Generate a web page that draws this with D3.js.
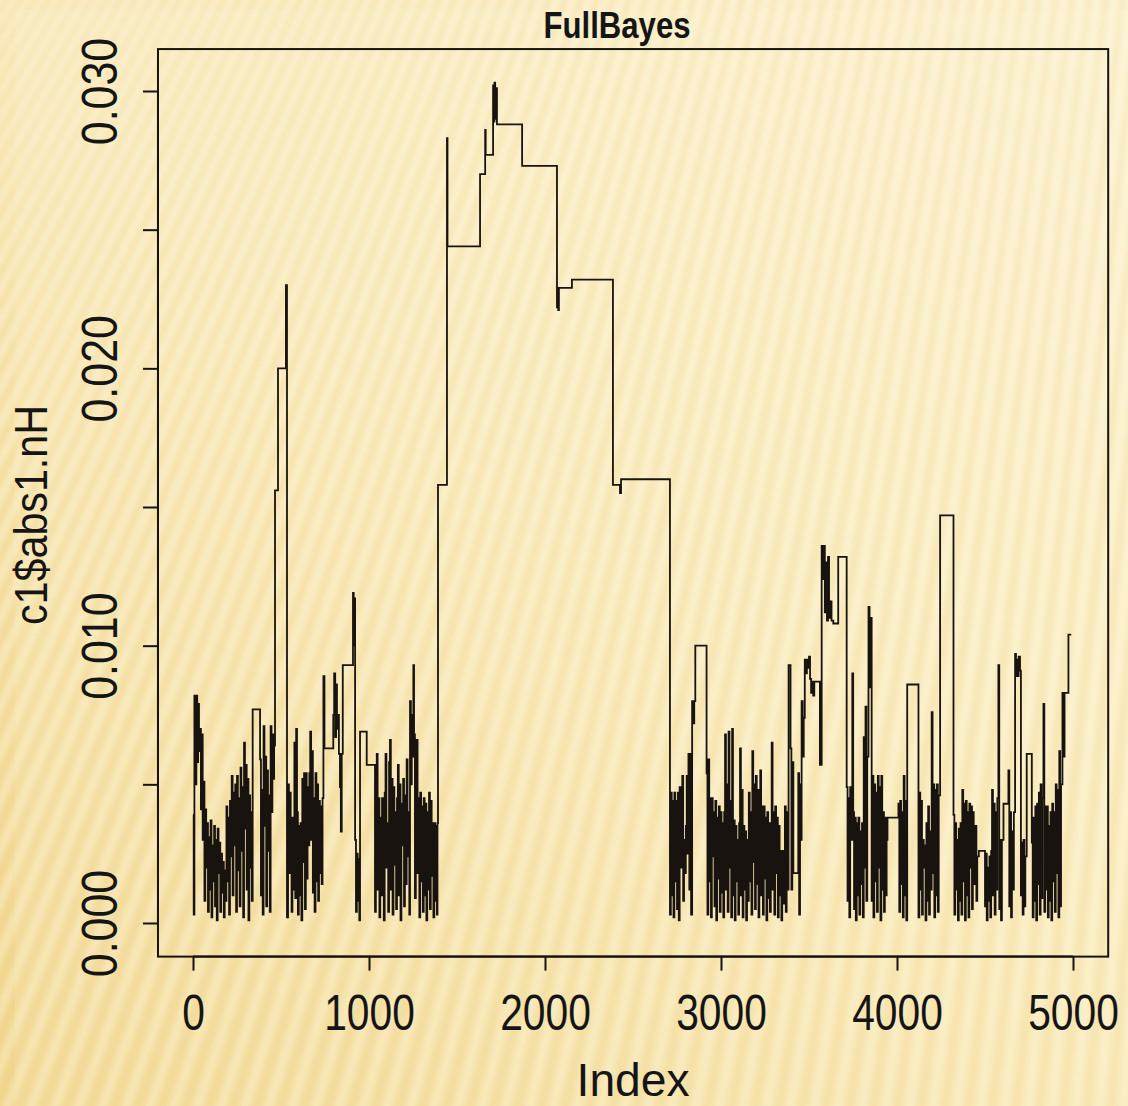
<!DOCTYPE html>
<html><head><meta charset="utf-8">
<script src="https://cdn.jsdelivr.net/npm/d3@7"></script>
<style>html,body{margin:0;padding:0;background:#F8E6AE;} svg{display:block}</style>
</head><body>
<svg id="c" width="1128" height="1106"></svg>
<script>
// ---------- data ----------
const chartTitle = "FullBayes";
const xLabel = "Index";
const yLabel = "c1$abs1.nH";
const xTicks = [0, 1000, 2000, 3000, 4000, 5000];
const yTicks = [0, 0.005, 0.010, 0.015, 0.020, 0.025, 0.030];
const yTickLabels = ["0.000", "", "0.010", "", "0.020", "", "0.030"];

const stepsA = [
[0,.0039],[4,.0003],[8,.0082],[14,.0050],[19,.0082],[24,.0058],[29,.0079],[34,.0062],[40,.0070],[45,.0041],
[50,.0068],[55,.0030],[60,.0051],[65,.0008],[70,.0041],[75,.0020],[80,.0036],[85,.0004],[90,.0031],[95,.0012],
[100,.0037],[105,.0002],[110,.0028],[115,.0015],[120,.0035],[125,.0006],[130,.0030],[135,.0001],[140,.0034],[145,.0018],
[150,.0029],[155,.0004],[160,.0025],[165,.0011],[170,.0022],[175,.0002],[180,.0019],[185,.0008],[190,.0042],[195,.0015],
[200,.0038],[205,.0003],[210,.0044],[215,.0024],[220,.0053],[225,.0010],[230,.0047],[235,.0028],[240,.0050],[245,.0004],
[250,.0053],[255,.0019],[260,.0045],[265,.0006],[270,.0056],[275,.0026],[280,.0049],[285,.0002],[290,.0065],[295,.0034],
[300,.0057],[305,.0012],[310,.0052],[315,.0001],[320,.0046],[325,.0020],[330,.0040],[334,.0008],[339,.0077],[381,.0059],
[386,.0010],[391,.0048],[396,.0003],[401,.0071],[406,.0035],[411,.0060],[416,.0006],[421,.0055],[426,.0026],[431,.0046],
[436,.0004],[441,.0071],[446,.0040],[451,.0068],[456,.0052],[461,.0064],[466,.0156],[483,.0200],[528,.0230],[534,.0002],
[540,.0050],[545,.0018],[550,.0047],[555,.0030],[560,.0004],[565,.0038],[570,.0012],[576,.0065],[581,.0009],[586,.0070],
[591,.0040],[596,.0003],[601,.0035],[606,.0010],[611,.0036],[616,.0001],[621,.0052],[626,.0022],[631,.0054],[636,.0005],
[641,.0054],[646,.0016],[651,.0049],[656,.0028],[661,.0054],[666,.0069],[671,.0030],[676,.0062],[681,.0011],[686,.0045],
[691,.0004],[696,.0054],[701,.0015],[706,.0050],[711,.0008],[716,.0044],[721,.0018],[726,.0042],[731,.0014],[736,.0045],
[741,.0089],[747,.0063],[797,.0075],[802,.0090],[808,.0067],[813,.0086],[818,.0070],[824,.0075],[829,.0061],[835,.0049],
[840,.0033],[845,.0061],[851,.0093],[909,.0119],[913,.0100],[917,.0117],[921,.0030],[926,.0004],[931,.0025],[936,.0008],
[941,.0023],[945,.0001],[949,.0069],[987,.0057],[1034,.0004],[1039,.0033],[1044,.0061],[1049,.0012],[1054,.0045],[1059,.0002],
[1064,.0038],[1069,.0010],[1074,.0045],[1079,.0025],[1084,.0001],[1089,.0047],[1094,.0061],[1099,.0020],[1104,.0036],[1109,.0004],
[1114,.0058],[1119,.0066],[1124,.0012],[1129,.0052],[1134,.0003],[1139,.0049],[1144,.0021],[1149,.0040],[1154,.0005],[1159,.0045],
[1164,.0057],[1169,.0010],[1174,.0050],[1179,.0001],[1184,.0043],[1189,.0028],[1194,.0052],[1199,.0006],[1204,.0046],[1209,.0014],
[1214,.0059],[1219,.0024],[1224,.0040],[1229,.0003],[1233,.0080],[1238,.0050],[1243,.0075],[1248,.0060],[1252,.0093],[1256,.0068],
[1261,.0009],[1266,.0050],[1271,.0066],[1276,.0018],[1281,.0045],[1286,.0002],[1291,.0047],[1296,.0015],[1301,.0042],[1306,.0004],
[1311,.0045],[1316,.0010],[1321,.0043],[1326,.0001],[1331,.0040],[1336,.0012],[1341,.0047],[1346,.0005],[1351,.0044],[1356,.0017],
[1361,.0036],[1366,.0002],[1371,.0036],[1376,.0008],[1381,.0035],[1386,.0003],[1389,.0036]
];
const stepsB = [
[1392,.0158],[1443,.0283],[1446,.0244],[1631,.0270],[1660,.0286],[1663,.0277],[1705,.0302],[1709,.0289],[1713,.0303],[1717,.0290],
[1721,.0301],[1727,.0288],[1870,.0273],[2068,.0222],[2071,.0229],[2075,.0221],[2079,.0229],[2153,.0232],[2386,.0158],[2426,.0155],
[2432,.0160]
];
const stepsC = [
[2710,.0003],[2715,.0047],[2720,.0010],[2725,.0044],[2730,.0002],[2735,.0047],[2740,.0015],[2745,.0044],[2750,.0005],[2755,.0047],
[2760,.0001],[2765,.0049],[2770,.0020],[2775,.0046],[2780,.0053],[2785,.0008],[2790,.0030],[2795,.0018],[2800,.0035],[2805,.0053],
[2810,.0025],[2815,.0061],[2820,.0012],[2825,.0061],[2830,.0003],[2836,.0080],[2842,.0072],[2848,.0080],[2854,.0100],[2918,.0054],
[2923,.0003],[2928,.0059],[2933,.0015],[2938,.0045],[2943,.0002],[2948,.0045],[2953,.0024],[2958,.0040],[2963,.0006],[2968,.0044],
[2973,.0001],[2978,.0038],[2983,.0016],[2988,.0042],[2993,.0004],[2998,.0040],[3003,.0011],[3008,.0036],[3013,.0002],[3018,.0040],
[3023,.0068],[3028,.0012],[3033,.0050],[3038,.0004],[3043,.0069],[3048,.0020],[3053,.0044],[3058,.0002],[3063,.0070],[3068,.0010],
[3073,.0037],[3078,.0001],[3083,.0035],[3088,.0015],[3093,.0030],[3098,.0003],[3103,.0036],[3108,.0063],[3113,.0010],[3118,.0048],
[3123,.0002],[3128,.0035],[3133,.0012],[3138,.0033],[3143,.0001],[3148,.0030],[3153,.0008],[3158,.0047],[3163,.0015],[3168,.0040],
[3173,.0003],[3178,.0062],[3183,.0022],[3188,.0050],[3193,.0005],[3198,.0053],[3203,.0014],[3208,.0048],[3213,.0002],[3218,.0046],
[3223,.0055],[3228,.0010],[3233,.0042],[3238,.0003],[3243,.0042],[3248,.0016],[3253,.0038],[3258,.0001],[3263,.0040],[3268,.0009],
[3273,.0036],[3278,.0004],[3283,.0030],[3288,.0065],[3293,.0012],[3298,.0040],[3303,.0003],[3308,.0042],[3313,.0018],[3318,.0038],
[3323,.0002],[3328,.0035],[3333,.0010],[3338,.0026],[3343,.0001],[3348,.0026],[3353,.0007],[3358,.0024],[3363,.0042],[3368,.0004],
[3373,.0040],[3378,.0012],[3384,.0093],[3395,.0063],[3400,.0012],[3405,.0058],[3411,.0018],[3439,.0054],[3444,.0003],[3449,.0050],
[3454,.0030],[3458,.0080],[3464,.0060],[3470,.0074],[3476,.0095],[3482,.0090],[3488,.0095],[3494,.0092],[3500,.0096],[3506,.0088],
[3512,.0083],[3518,.0087],[3524,.0082],[3530,.0087],[3562,.0057],[3572,.0136],[3578,.0124],[3584,.0136],[3590,.0112],[3596,.0130],
[3602,.0109],[3608,.0132],[3614,.0110],[3620,.0116],[3628,.0109],[3638,.0108],[3666,.0132],[3714,.0049],[3719,.0008],[3724,.0045],
[3729,.0002],[3734,.0049],[3740,.0030],[3746,.0090],[3751,.0040],[3756,.0005],[3761,.0038],[3766,.0001],[3771,.0036],[3776,.0010],
[3781,.0038],[3786,.0003],[3791,.0033],[3796,.0014],[3801,.0036],[3806,.0002],[3811,.0067],[3816,.0020],[3821,.0078],[3826,.0008],
[3831,.0060],[3838,.0114],[3844,.0085],[3850,.0110],[3856,.0008],[3861,.0053],[3866,.0002],[3871,.0050],[3876,.0015],[3881,.0047],
[3886,.0004],[3891,.0053],[3896,.0020],[3901,.0049],[3906,.0001],[3911,.0053],[3916,.0012],[3921,.0040],[3926,.0004],[3931,.0038],
[3936,.0010],[3941,.0030],[3946,.0038],[4008,.0043],[4013,.0004],[4018,.0044],[4023,.0014],[4028,.0040],[4033,.0002],[4038,.0053],
[4043,.0010],[4048,.0044],[4053,.0001],[4058,.0086],[4122,.0002],[4127,.0047],[4132,.0012],[4137,.0044],[4142,.0003],[4147,.0030],
[4152,.0020],[4157,.0028],[4162,.0001],[4167,.0036],[4172,.0008],[4177,.0042],[4182,.0003],[4187,.0033],[4192,.0012],[4197,.0076],
[4202,.0018],[4207,.0050],[4212,.0002],[4217,.0048],[4222,.0010],[4227,.0050],[4232,.0004],[4237,.0046],[4245,.0147],[4321,.0039],
[4326,.0003],[4331,.0036],[4336,.0012],[4341,.0030],[4346,.0001],[4351,.0034],[4356,.0008],[4361,.0036],[4366,.0003],[4371,.0048],
[4376,.0015],[4381,.0043],[4386,.0001],[4391,.0044],[4396,.0010],[4401,.0040],[4406,.0002],[4411,.0043],[4416,.0020],[4421,.0042],
[4426,.0005],[4431,.0040],[4436,.0014],[4441,.0023],[4446,.0035],[4451,.0008],[4456,.0024],[4465,.0026],[4500,.0006],[4505,.0025],
[4510,.0001],[4515,.0020],[4520,.0008],[4525,.0024],[4530,.0002],[4535,.0026],[4540,.0048],[4545,.0010],[4550,.0043],[4555,.0003],
[4560,.0040],[4565,.0012],[4570,.0045],[4576,.0093],[4581,.0005],[4586,.0030],[4591,.0001],[4596,.0030],[4605,.0043],[4633,.0055],
[4638,.0006],[4643,.0040],[4648,.0002],[4653,.0033],[4658,.0012],[4664,.0040],[4671,.0097],[4676,.0089],[4681,.0095],[4686,.0089],
[4691,.0096],[4699,.0091],[4704,.0010],[4709,.0029],[4714,.0003],[4719,.0030],[4724,.0006],[4729,.0024],[4737,.0061],[4766,.0029],
[4771,.0002],[4776,.0038],[4781,.0008],[4786,.0042],[4791,.0001],[4796,.0043],[4801,.0014],[4806,.0047],[4811,.0003],[4816,.0050],
[4821,.0009],[4826,.0045],[4832,.0079],[4837,.0004],[4842,.0042],[4847,.0012],[4852,.0042],[4857,.0002],[4862,.0035],[4867,.0008],
[4872,.0040],[4877,.0001],[4882,.0043],[4887,.0015],[4892,.0040],[4897,.0004],[4902,.0050],[4907,.0018],[4912,.0048],[4917,.0002],
[4922,.0062],[4927,.0006],[4932,.0050],[4940,.0083],[4946,.0060],[4952,.0083],[4974,.0104],[4990,.0104]
];

// ---------- drawing ----------
const W = 1128, H = 1106;
const svg = d3.select("#c");
const defs = svg.append("defs");

// slide background
const bg = defs.append("linearGradient").attr("id","bgGrad")
  .attr("x1","0.95").attr("y1","0").attr("x2","0.05").attr("y2","1");
bg.append("stop").attr("offset","0").attr("stop-color","#FCF2CF");
bg.append("stop").attr("offset","0.5").attr("stop-color","#F9E8B5");
bg.append("stop").attr("offset","1").attr("stop-color","#F1D68D");
svg.append("rect").attr("width",W).attr("height",H).attr("fill","url(#bgGrad)");

const blur = defs.append("filter").attr("id","soft")
  .attr("filterUnits","userSpaceOnUse").attr("x",-50).attr("y",-50).attr("width",W+100).attr("height",H+100);
blur.append("feGaussianBlur").attr("stdDeviation","3");

const stripes = svg.append("g").attr("filter","url(#soft)");
const tiltDeg = d3.scaleLinear().domain([-300, 1300]).range([26, 2]);
for (let b = -1100, k = 0; b < 1400; b += 12, k++) {
  const t = Math.tan(Math.max(0, tiltDeg(b)) * Math.PI / 180);
  const y0 = H + 40, y1 = -40;
  stripes.append("line")
    .attr("x1", b).attr("y1", y0)
    .attr("x2", b + (y0 - y1) * t).attr("y2", y1)
    .attr("stroke", k % 2 ? "#FFF9E2" : "#EACB7A")
    .attr("stroke-opacity", k % 2 ? 0.45 : 0.25)
    .attr("stroke-width", 7);
}
// plot image slightly lighter than the slide
svg.append("rect").attr("x",15).attr("y",10).attr("width",W-15).attr("height",H-10)
  .attr("fill","#FFFBEA").attr("opacity",0.12);

const allSteps = stepsA.concat(stepsB, stepsC);
const x = d3.scaleLinear().domain([0, 5000]).range([193, 1073]);
const y = d3.scaleLinear().domain([0, 0.030]).range([923, 91]);

// R-style plot region: data range extended by 4%
const xr = [1, 5000], yr = [0, d3.max(allSteps, d => d[1])];
const xPad = (xr[1]-xr[0])*0.04, yPad = (yr[1]-yr[0])*0.04;
const bx0 = x(xr[0]-xPad), bx1 = x(xr[1]+xPad);
const by0 = y(yr[0]-yPad), by1 = y(yr[1]+yPad);

const ink = "#18130f";
const txt = "#151515";
const fontFam = "'Liberation Sans',Arial,sans-serif";

// trace
svg.append("path")
  .datum(allSteps)
  .attr("d", d3.line().x(d => x(d[0])).y(d => y(d[1])).curve(d3.curveStepAfter))
  .attr("fill","none").attr("stroke", ink).attr("stroke-width", 1.8)
  .attr("stroke-linejoin","miter");

// box
svg.append("rect").attr("x", bx0).attr("y", by1).attr("width", bx1 - bx0).attr("height", by0 - by1)
  .attr("fill","none").attr("stroke", ink).attr("stroke-width", 2);

// narrow-looking glyphs (the original figure is horizontally compressed)
const narrowLen = s => s.split("").reduce((a, ch) => a + (ch === "." ? 11 : 22.6), 0);

// x axis
const xAxis = d3.axisBottom(x).tickValues(xTicks).tickSize(14).tickPadding(24).tickFormat(d3.format("d"));
const gx = svg.append("g").attr("transform", `translate(0,${by0})`).call(xAxis);
gx.select(".domain").attr("d", `M${x(0)},0H${x(5000)}`).attr("stroke", ink).attr("stroke-width", 2);
gx.selectAll(".tick line").attr("stroke", ink).attr("stroke-width", 2);
gx.selectAll(".tick text").attr("fill", txt).attr("font-family", fontFam).attr("font-size", 50)
  .attr("dy", "0.71em")
  .attr("transform", "scale(0.815,1)");

// y axis
const yAxis = d3.axisLeft(y).tickValues(yTicks).tickSize(15).tickFormat((d, i) => yTickLabels[i]);
const gy = svg.append("g").attr("transform", `translate(${bx0},0)`).call(yAxis);
gy.select(".domain").attr("d", `M0,${y(0)}V${y(0.030)}`).attr("stroke", ink).attr("stroke-width", 2);
gy.selectAll(".tick line").attr("stroke", ink).attr("stroke-width", 2);
gy.selectAll(".tick text")
  .attr("fill", txt).attr("font-family", fontFam).attr("font-size", 50)
  .attr("x", null).attr("dy", null)
  .attr("text-anchor", "middle")
  .attr("transform", `translate(${117 - bx0},0) rotate(-90)`)
  .each(function(d, i) {
    const s = yTickLabels[i];
    if (s) d3.select(this).attr("textLength", narrowLen(s) + 6).attr("lengthAdjust", "spacingAndGlyphs");
  });

// titles
svg.append("text").attr("x", 617).attr("y", 38).attr("text-anchor","middle")
  .attr("font-family", fontFam).attr("font-weight","bold").attr("font-size", 36).attr("fill", txt)
  .attr("textLength", 147).attr("lengthAdjust", "spacingAndGlyphs")
  .text(chartTitle);
svg.append("text").attr("x", (bx0+bx1)/2).attr("y", 1096).attr("text-anchor","middle")
  .attr("font-family", fontFam).attr("font-size", 46).attr("fill", txt)
  .attr("textLength", 113).attr("lengthAdjust", "spacingAndGlyphs")
  .text(xLabel);
svg.append("text").attr("transform", `translate(47,515) rotate(-90)`).attr("text-anchor","middle")
  .attr("font-family", fontFam).attr("font-size", 46).attr("fill", txt)
  .attr("textLength", 220).attr("lengthAdjust", "spacingAndGlyphs")
  .text(yLabel);
</script>
</body></html>
